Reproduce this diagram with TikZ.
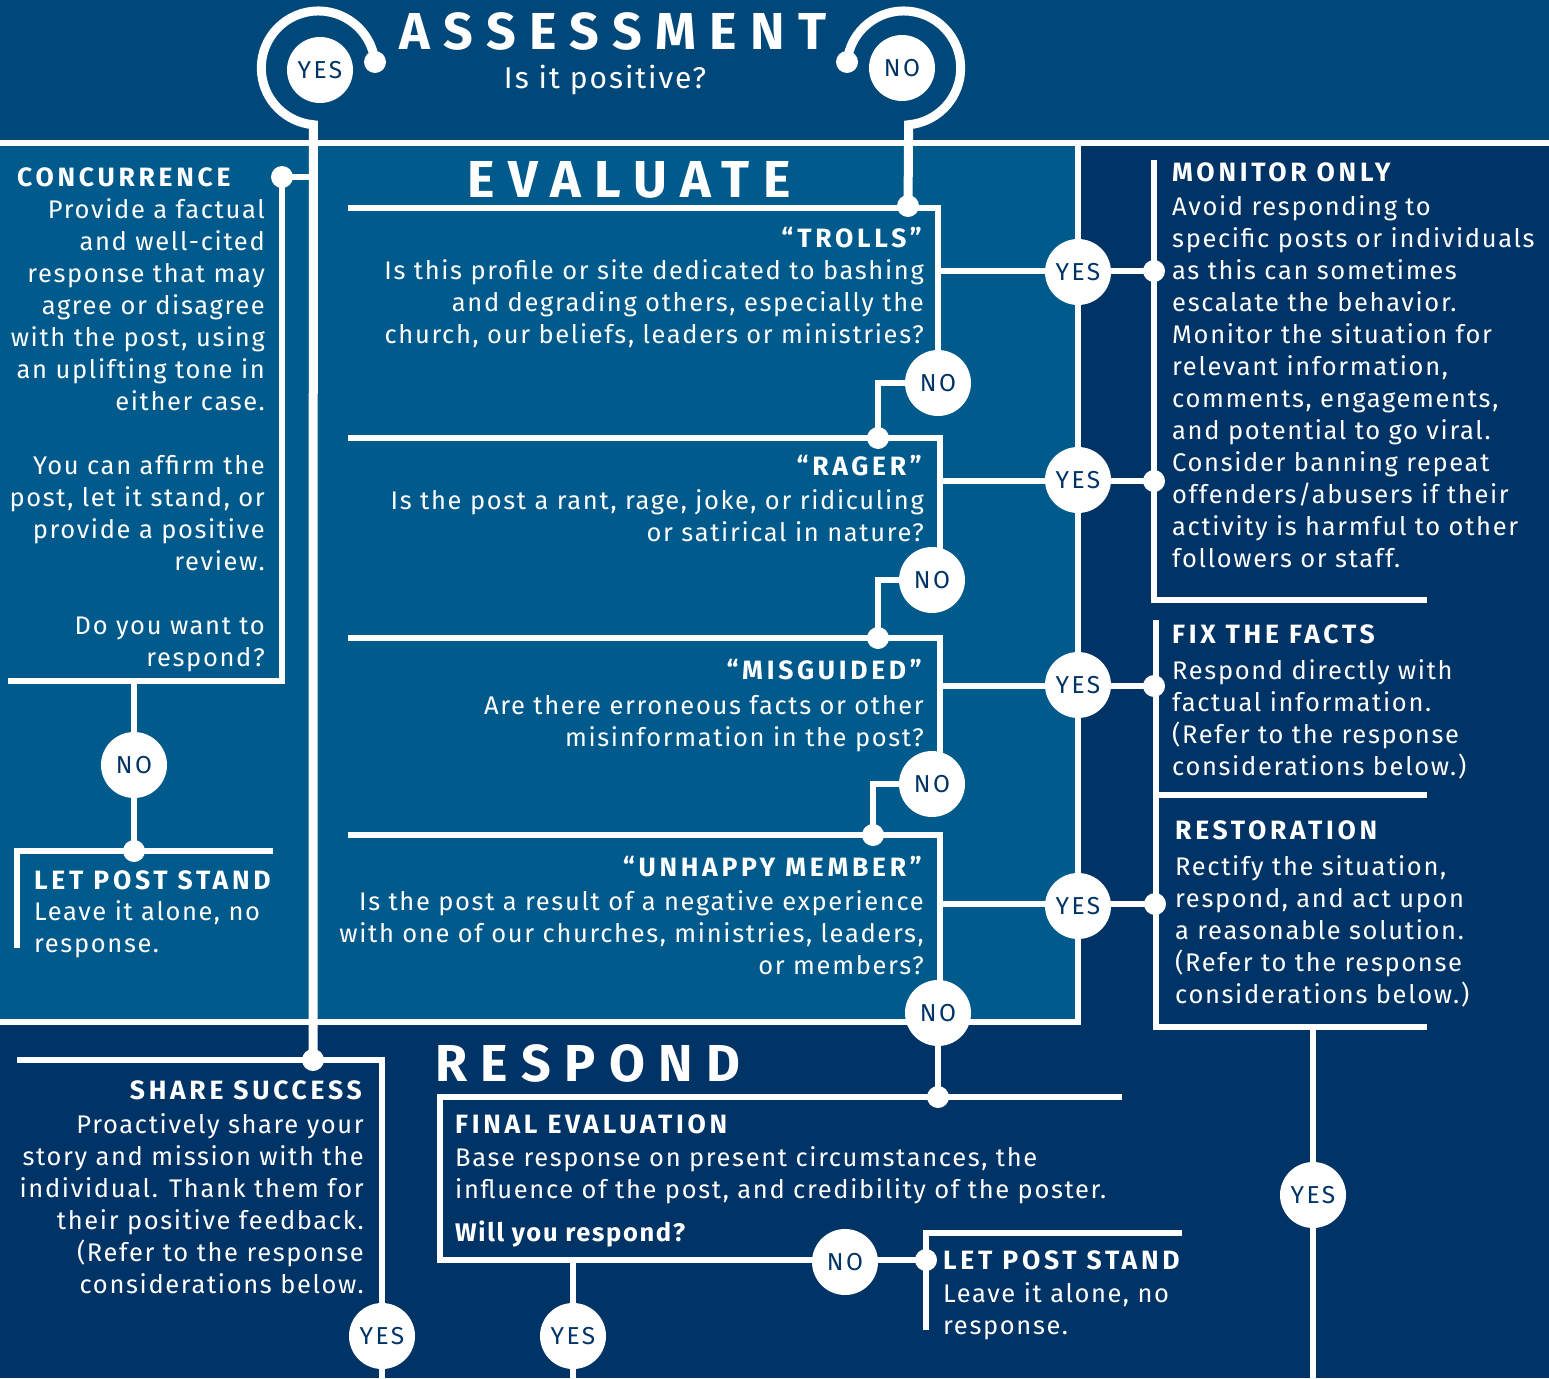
\documentclass[tikz,border=0pt]{standalone}
\usepackage{fontspec}
\setmainfont[LetterSpace=6.5]{Fira Sans}
\newfontfamily\headfont[LetterSpace=14]{Fira Sans}
\newfontfamily\ringfont[LetterSpace=10]{Fira Sans}
\newfontfamily\titlefont[LetterSpace=26]{Fira Sans}
\definecolor{topblue}{HTML}{00487A}
\definecolor{midblue}{HTML}{005A8C}
\definecolor{navy}{HTML}{003366}
\pgfdeclarelayer{back}\pgfdeclarelayer{wire}
\pgfsetlayers{back,wire,main}
\begin{document}
\begin{tikzpicture}[x=1pt,y=-1pt,
  link/.style={white,line width=5.5pt},
  trunk/.style={white,line width=9pt},
  answer/.style={circle,fill=white,minimum size=66pt,inner sep=0pt,text=navy,font=\ringfont\fontsize{24.5}{24.5}\selectfont},
  dot/.style={circle,fill=white,minimum size=22pt,inner sep=0pt},
  body/.style={text=white,inner sep=0pt,font=\fontsize{25.5}{32}\selectfont},
  head/.style={text=white,inner sep=0pt,font=\headfont\bfseries\fontsize{26.5}{32}\selectfont},
  title/.style={text=white,inner sep=0pt,font=\titlefont\bfseries\fontsize{52}{52}\selectfont}]
\useasboundingbox (0,0) rectangle (1549,1378);
% answers and joints
\node[answer] (yes0) at (320,70) {YES};
\node[answer] (no0) at (902,68) {NO};
\node[dot] (hookyes) at (375,62) {};
\node[dot] (hookno) at (847,62) {};
\node[dot] (conc) at (282,177) {};
\node[answer] (noconc) at (134,765) {NO};
\node[dot] (stand) at (134,851) {};
\node[dot] (share) at (313,1060) {};
\node[answer] (yesshare) at (382,1336) {YES};
\node[dot] (trolls) at (908,206) {};
\node[answer] (no1) at (938,383) {NO};
\node[dot] (rager) at (878,438) {};
\node[answer] (no2) at (932,580) {NO};
\node[dot] (misg) at (878,638) {};
\node[answer] (no3) at (932,784) {NO};
\node[dot] (unhappy) at (873,835) {};
\node[answer] (no4) at (938,1013) {NO};
\node[dot] (final) at (938,1097) {};
\node[answer] (yes1) at (1078,272) {YES};
\node[answer] (yes2) at (1078,480) {YES};
\node[answer] (yes3) at (1078,685) {YES};
\node[answer] (yes4) at (1078,906) {YES};
\node[dot] (mon1) at (1154,271) {};
\node[dot] (mon2) at (1154,481) {};
\node[dot] (fix) at (1154,686) {};
\node[dot] (rest) at (1155,904) {};
\node[answer] (yesrest) at (1313,1195) {YES};
\node[answer] (yesfinal) at (573,1336) {YES};
\node[answer] (nofinal) at (845,1262) {NO};
\node[dot] (stand2) at (926,1260) {};
% free ends
\coordinate (concend) at (8,681);
\coordinate (standtop) at (273,851);
\coordinate (standfoot) at (17,948);
\coordinate (sharefoot) at (382,1378);
\coordinate (sharetop) at (17,1060);
\coordinate (trollsbox) at (348,208);
\coordinate (ragerbox) at (348,438);
\coordinate (misgbox) at (348,638);
\coordinate (unhappybox) at (348,835);
\coordinate (monitortop) at (1154,160);
\coordinate (monitorend) at (1427,600);
\coordinate (fixtop) at (1156,620);
\coordinate (fixend) at (1427,795);
\coordinate (restend) at (1427,1027);
\coordinate (restfoot) at (1313,1378);
\coordinate (finalend) at (1122,1097);
\coordinate (finalbox) at (440,1097);
\coordinate (finalfoot) at (573,1378);
\coordinate (standfoot2) at (926,1330);
\coordinate (standend2) at (1182,1233);
\begin{pgfonlayer}{back}
\fill[navy] (0,0) rectangle (1549,1378);
\fill[topblue] (0,0) rectangle (1549,143);
\fill[midblue] (0,143) rectangle (1078,1022);
\end{pgfonlayer}
\begin{pgfonlayer}{wire}
\draw[link] (0,143) -- (1549,143) (1078,143) -- (1078,1022) -- (0,1022);
\draw[trunk] (hookyes.center) arc[start angle=-6,end angle=-265,radius=57] -- (share.center);
\draw[trunk] (hookno.center) arc[start angle=-174,end angle=85,radius=57] -- (trolls.center);
\draw[link] (conc.center) -- (conc -| share) (conc.center) |- (concend);
\draw[link] (noconc |- concend) -- (stand.center) (standfoot) |- (standtop);
\draw[link] (sharetop) -| (sharefoot);
\draw[link] (trollsbox) -| (no1.center) (no1.center) -| (rager.center);
\draw[link] (ragerbox) -- (ragerbox -| 940,0) -- (940,580) (no2.center) -| (misg.center);
\draw[link] (misgbox) -- (misgbox -| 940,0) -- (940,784) (no3.center) -| (unhappy.center);
\draw[link] (unhappybox) -- (unhappybox -| 940,0) -- (940,1013) (no4.center) -- (final.center);
\draw[link] (mon1 -| 940,0) -- (mon1.center) (mon2 -| 940,0) -- (mon2.center);
\draw[link] (fix -| 940,0) -- (fix.center) (rest -| 940,0) -- (rest.center);
\draw[link] (monitortop) |- (monitorend) (fixtop) |- (restend) (fixtop |- fixend) -- (fixend);
\draw[link] (yesrest |- restend) -- (restfoot);
\draw[link] (finalend) -- (finalbox) |- (stand2.center) (yesfinal |- stand2) -- (finalfoot);
\draw[link] (standfoot2) |- (standend2);
\end{pgfonlayer}
% titles
\node[title,anchor=base] (assess) at (613,50) {ASSESSMENT};
\node[body,anchor=base,font=\fontsize{30}{30}\selectfont] (question) at (605,89) {Is it positive?};
\node[title,anchor=base] (evaluate) at (629,197) {EVALUATE};
\node[title,anchor=base west] (respond) at (435,1081) {RESPOND};
% left column
\node[head,anchor=base west] (conchead) at (17,186) {CONCURRENCE};
\node[body,anchor=base east,align=right] (conctext) at (265,666) {Provide a factual\\and well-cited\\response that may\\agree or disagree\\with the post, using\\an uplifting tone in\\either case.\\[32pt]You can affirm the\\post, let it stand, or\\provide a positive\\review.\\[32pt]Do you want to\\respond?};
\node[head,anchor=base west] (standhead) at (34,889) {LET POST STAND};
\node[body,anchor=base west,align=left] (standtext) at (34,952) {Leave it alone, no\\response.};
\node[head,anchor=base east] (sharehead) at (362,1099) {SHARE SUCCESS};
\node[body,anchor=base east,align=right] (sharetext) at (364,1293) {Proactively share your\\story and mission with the\\individual. Thank them for\\their positive feedback.\\(Refer to the response\\considerations below.};
% evaluate column
\node[head,anchor=base east] (trollshead) at (922,247) {“TROLLS”};
\node[body,anchor=base east,align=right] (trollstext) at (924,343) {Is this profile or site dedicated to bashing\\and degrading others, especially the\\church, our beliefs, leaders or ministries?};
\node[head,anchor=base east] (ragerhead) at (922,475) {“RAGER”};
\node[body,anchor=base east,align=right] (ragertext) at (924,541) {Is the post a rant, rage, joke, or ridiculing\\or satirical in nature?};
\node[head,anchor=base east] (misghead) at (922,679) {“MISGUIDED”};
\node[body,anchor=base east,align=right] (misgtext) at (924,746) {Are there erroneous facts or other\\misinformation in the post?};
\node[head,anchor=base east] (unhappyhead) at (922,876) {“UNHAPPY MEMBER”};
\node[body,anchor=base east,align=right] (unhappytext) at (924,974) {Is the post a result of a negative experience\\with one of our churches, ministries, leaders,\\or members?};
% right column
\node[head,anchor=base west] (monhead) at (1172,181) {MONITOR ONLY};
\node[body,anchor=base west,align=left] (montext) at (1172,567) {Avoid responding to\\specific posts or individuals\\as this can sometimes\\escalate the behavior.\\Monitor the situation for\\relevant information,\\comments, engagements,\\and potential to go viral.\\Consider banning repeat\\offenders/abusers if their\\activity is harmful to other\\followers or staff.};
\node[head,anchor=base west] (fixhead) at (1172,643) {FIX THE FACTS};
\node[body,anchor=base west,align=left] (fixtext) at (1172,775) {Respond directly with\\factual information.\\(Refer to the response\\considerations below.)};
\node[head,anchor=base west] (resthead) at (1175,839) {RESTORATION};
\node[body,anchor=base west,align=left] (resttext) at (1175,1003) {Rectify the situation,\\respond, and act upon\\a reasonable solution.\\(Refer to the response\\considerations below.)};
% respond column
\node[head,anchor=base west] (finalhead) at (455,1133) {FINAL EVALUATION};
\node[body,anchor=base west,align=left] (finaltext) at (455,1198) {Base response on present circumstances, the\\influence of the post, and credibility of the poster.};
\node[body,anchor=base west,font=\bfseries\fontsize{25.5}{32}\selectfont] (finalask) at (455,1241) {Will you respond?};
\node[head,anchor=base west] (standhead2) at (943,1269) {LET POST STAND};
\node[body,anchor=base west,align=left] (standtext2) at (943,1334) {Leave it alone, no\\response.};
\end{tikzpicture}
\end{document}
